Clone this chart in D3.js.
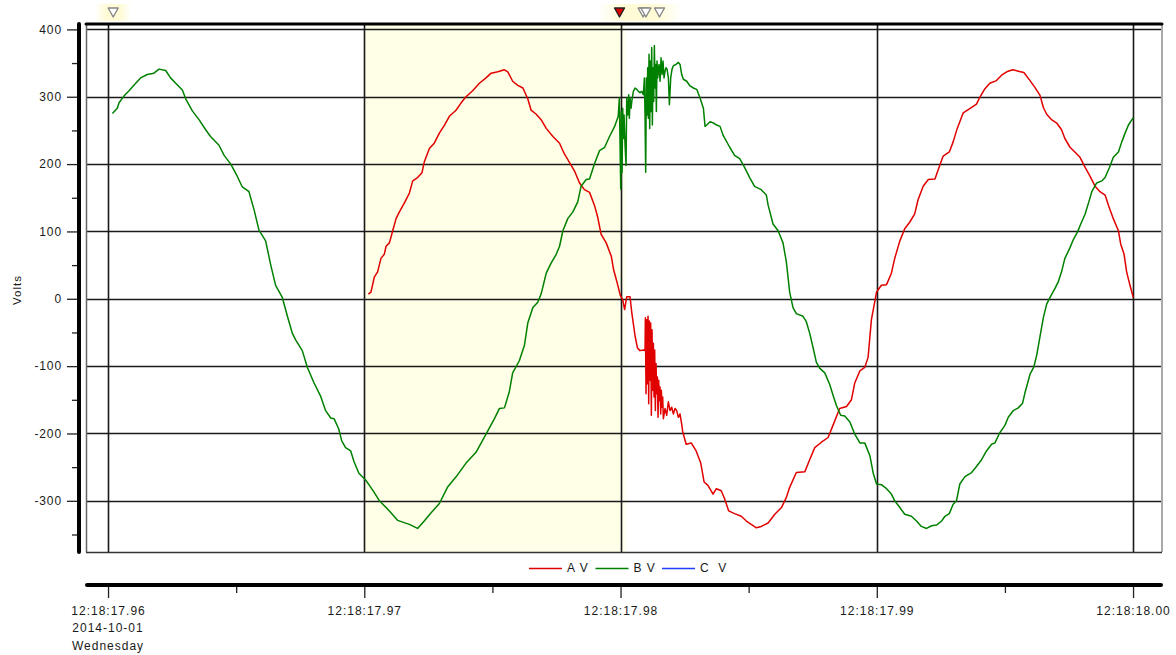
<!DOCTYPE html>
<html><head><meta charset="utf-8">
<script src="https://cdn.jsdelivr.net/npm/d3@7"></script>
<style>
body{margin:0;background:#fff}
svg text{font-family:"Liberation Sans",Arial,sans-serif;fill:#1a1a1a}
</style>
</head><body>
<svg id="c" width="1176" height="655"></svg>
<script>
// ---- data (time in ms after 12:18:17.960) ----
const xTicksMs = [0, 10, 20, 30, 40];
const xTickLabels = ["12:18:17.96", "12:18:17.97", "12:18:17.98", "12:18:17.99", "12:18:18.00"];
const firstTickExtra = ["2014-10-01", "Wednesday"];
const xMinorMs = [5, 15, 25, 35];
const yTicks = [-300, -200, -100, 0, 100, 200, 300, 400];
const yTickLabels = ["-300", "-200", "-100", "0", "100", "200", "300", "400"];
const yMinor = [-350, -250, -150, -50, 50, 150, 250, 350];
const yTitle = "Volts";
const seriesNames = ["A V", "B V", "C  V"];
const seriesColors = ["#e00000", "#008000", "#1f3fff"];
const shadedMs = [10, 20];
const markers = [
  {t: 0.2, kind: "gray"}, {t: 19.96, kind: "red"},
  {t: 20.88, kind: "gray"}, {t: 20.99, kind: "gray"}, {t: 21.52, kind: "gray"}
];

const seriesA = [
[10.16,7],[10.26,10],[10.39,32],[10.52,40],[10.65,60],[10.78,66],[10.85,78],[10.98,83],[11.11,101],[11.24,119],[11.37,129],[11.56,142],[11.76,157],[11.89,175],[12.08,180],[12.25,187],[12.34,203],[12.54,223],[12.73,231],[12.93,246],[13.13,258],[13.32,271],[13.58,280],[13.78,291],[13.97,300],[14.23,309],[14.49,320],[14.75,328],[14.95,335],[15.21,337],[15.47,340],[15.60,337],[15.79,323],[15.99,317],[16.19,313],[16.38,297],[16.51,280],[16.71,274],[16.90,266],[17.10,253],[17.36,241],[17.62,231],[17.81,215],[18.00,203],[18.20,190],[18.40,172],[18.59,162],[18.79,158],[18.98,139],[19.11,121],[19.24,96],[19.44,83],[19.64,63],[19.73,43],[19.86,25],[19.99,5],
[20.08,-1],[20.16,-16],[20.24,3],[20.37,3],[20.44,-21],[20.57,-56],[20.66,-73],[20.76,-77],[20.89,-76],[20.956,-77],
[20.969,-28],[20.995,-141],[21.021,-31],[21.047,-126],[21.073,-26],[21.099,-156],[21.125,-33],[21.151,-121],[21.177,-36],[21.203,-173],[21.229,-46],[21.255,-136],[21.281,-66],[21.307,-146],[21.333,-76],[21.359,-166],[21.385,-96],[21.411,-141],[21.437,-116],[21.463,-176],[21.489,-121],[21.515,-151],[21.541,-131],[21.567,-171],[21.593,-136],[21.619,-161],[21.645,-146],[21.671,-178],[21.736,-163],[21.801,-173],[21.866,-153],[21.931,-166],[21.996,-161],[22.061,-171],[22.126,-163],[22.191,-166],[22.256,-176],[22.321,-171],[22.386,-186],[22.425,-197],
[22.56,-216],[22.76,-214],[22.95,-226],[23.13,-244],[23.26,-272],[23.41,-277],[23.61,-290],[23.74,-282],[23.93,-285],[24.06,-297],[24.22,-315],[24.45,-319],[24.71,-323],[24.91,-330],[25.10,-335],[25.30,-340],[25.49,-338],[25.76,-333],[26.02,-320],[26.28,-310],[26.47,-295],[26.60,-280],[26.86,-258],[27.19,-257],[27.38,-239],[27.58,-221],[27.84,-213],[28.10,-206],[28.29,-188],[28.55,-163],[28.82,-160],[29.01,-150],[29.14,-125],[29.34,-107],[29.53,-102],[29.66,-87],[29.79,-31],[29.99,10],
[30.18,20],[30.38,21],[30.57,38],[30.70,60],[30.90,86],[31.09,104],[31.29,114],[31.48,126],[31.61,147],[31.81,167],[32.01,177],[32.27,178],[32.40,192],[32.59,212],[32.83,218],[32.98,233],[33.14,253],[33.37,276],[33.57,281],[33.89,289],[34.02,299],[34.22,312],[34.41,320],[34.67,324],[34.87,332],[35.07,337],[35.30,340],[35.52,338],[35.74,336],[35.98,324],[36.17,314],[36.37,302],[36.50,284],[36.63,274],[36.82,266],[37.02,261],[37.21,251],[37.34,238],[37.54,225],[37.73,218],[37.93,210],[38.13,195],[38.32,182],[38.52,167],[38.71,159],[38.91,154],[39.04,139],[39.23,119],[39.43,101],[39.52,81],[39.65,66],[39.75,40],[39.88,20],[40.01,2]
];

const seriesB = [
[0.17,275],[0.36,283],[0.43,291],[0.62,301],[0.82,309],[1.01,317],[1.27,328],[1.53,333],[1.79,335],[1.99,341],[2.25,339],[2.44,328],[2.64,320],[2.90,310],[3.03,297],[3.29,279],[3.55,266],[3.81,251],[4.00,241],[4.33,228],[4.53,213],[4.79,200],[5.04,182],[5.24,166],[5.50,159],[5.70,132],[5.89,102],[6.15,86],[6.35,50],[6.54,20],[6.80,2],[7.00,-26],[7.19,-51],[7.32,-61],[7.58,-77],[7.78,-102],[8.04,-125],[8.30,-145],[8.49,-166],[8.69,-177],[8.82,-178],[9.00,-193],[9.12,-211],[9.27,-221],[9.47,-226],[9.60,-242],[9.79,-259],[10.05,-269],[10.20,-277],[10.38,-287],
[10.59,-300],[10.98,-315],[11.30,-329],[11.76,-335],[12.08,-341],[12.34,-330],[12.60,-318],[12.93,-304],[13.26,-279],[13.59,-264],[13.97,-244],[14.36,-228],[14.75,-201],[15.08,-178],[15.27,-163],[15.47,-162],[15.66,-138],[15.79,-110],[16.05,-92],[16.25,-69],[16.38,-36],[16.58,-13],[16.77,-5],[16.90,7],[17.10,38],[17.29,53],[17.49,66],[17.62,78],[17.75,101],[17.94,119],[18.14,129],[18.33,144],[18.46,167],[18.66,177],[18.79,178],[18.98,200],[19.18,220],[19.38,225],[19.57,241],[19.77,256],[19.91,271],
[19.954,298],[20.007,163],[20.033,278],[20.059,188],[20.085,283],[20.111,238],[20.137,273],[20.176,228],[20.215,198],[20.241,298],[20.280,273],[20.319,303],[20.345,268],[20.371,298],[20.410,283],[20.449,296],[20.501,308],[20.566,313],[20.631,311],[20.696,308],[20.761,306],[20.826,308],[20.891,303],
[20.930,328],[20.956,273],[20.982,188],[21.008,328],[21.034,273],[21.060,343],[21.086,268],[21.112,363],[21.138,253],[21.164,353],[21.190,278],[21.216,373],[21.242,258],[21.268,343],[21.294,293],[21.320,376],[21.346,313],[21.372,348],[21.398,278],[21.424,353],[21.450,328],[21.476,338],[21.502,348],[21.541,323],[21.581,358],[21.619,333],[21.658,353],[21.697,328],[21.737,338],[21.776,343],[21.815,341],[21.867,328],[21.906,288],[21.958,328],[22.010,341],[22.062,346],[22.166,348],[22.257,351],[22.322,348],[22.387,333],[22.452,326],[22.582,323],[22.712,316],[22.842,313],[22.972,311],[23.102,298],[23.233,283],[23.298,256],[23.363,258],[23.493,263],[23.623,261],[23.753,258],[23.883,256],
[24.00,243],[24.26,225],[24.45,213],[24.65,208],[24.84,195],[25.04,180],[25.23,167],[25.49,162],[25.69,154],[25.76,139],[25.95,111],[26.15,101],[26.34,83],[26.47,55],[26.60,10],[26.73,-13],[26.86,-22],[27.12,-26],[27.25,-34],[27.38,-51],[27.51,-72],[27.64,-94],[27.77,-103],[27.97,-110],[28.16,-127],[28.29,-143],[28.42,-158],[28.59,-173],[28.75,-174],[28.95,-183],[29.14,-201],[29.34,-214],[29.53,-214],[29.73,-233],[29.86,-259],[29.99,-275],
[30.18,-276],[30.38,-282],[30.57,-290],[30.70,-300],[30.90,-310],[31.09,-320],[31.35,-323],[31.55,-330],[31.74,-338],[31.94,-341],[32.14,-337],[32.33,-336],[32.53,-330],[32.66,-323],[32.83,-319],[32.98,-305],[33.11,-300],[33.24,-275],[33.44,-264],[33.70,-258],[33.89,-249],[34.09,-239],[34.28,-226],[34.48,-216],[34.61,-214],[34.80,-199],[35.00,-188],[35.13,-176],[35.33,-166],[35.52,-162],[35.69,-155],[35.78,-140],[35.98,-112],[36.13,-101],[36.24,-84],[36.37,-56],[36.50,-28],[36.63,-8],[36.76,2],[36.95,15],[37.08,25],[37.21,40],[37.34,60],[37.54,76],[37.67,88],[37.83,99],[37.96,111],[38.13,126],[38.26,142],[38.39,159],[38.58,172],[38.78,175],[38.91,180],[39.08,195],[39.23,210],[39.43,218],[39.56,233],[39.69,246],[39.82,258],[40.01,269]
];
const seriesC = [];

// ---- layout ----
const svg = d3.select("#c");
const P = {left: 86, right: 1162, top: 23, bottom: 552};
const x = d3.scaleLinear().domain([-0.86, 41.13]).range([P.left, P.right]);
const y = d3.scaleLinear().domain([-376, 409.5]).range([P.bottom, P.top]);

const defs = svg.append("defs");
const glow = defs.append("linearGradient").attr("id", "glow");
glow.append("stop").attr("offset", "0").attr("stop-color", "#fffbd6").attr("stop-opacity", 0);
glow.append("stop").attr("offset", "0.3").attr("stop-color", "#fffbd6").attr("stop-opacity", 1);
glow.append("stop").attr("offset", "0.7").attr("stop-color", "#fffbd6").attr("stop-opacity", 1);
glow.append("stop").attr("offset", "1").attr("stop-color", "#fffbd6").attr("stop-opacity", 0);
const fade = defs.append("linearGradient").attr("id", "fade");
fade.append("stop").attr("offset", "0").attr("stop-color", "#fffee6").attr("stop-opacity", 1);
fade.append("stop").attr("offset", "1").attr("stop-color", "#fffee6").attr("stop-opacity", 0);
defs.append("clipPath").attr("id", "plotclip").append("rect")
  .attr("x", P.left).attr("y", P.top).attr("width", P.right - P.left).attr("height", P.bottom - P.top);

// shaded interval
svg.append("rect").attr("x", x(shadedMs[0])).attr("y", P.top).attr("width", x(shadedMs[1]) - x(shadedMs[0]))
  .attr("height", P.bottom - P.top).attr("fill", "#fffee6");
svg.append("rect").attr("x", x(shadedMs[1])).attr("y", P.top).attr("width", 8)
  .attr("height", P.bottom - P.top).attr("fill", "url(#fade)");

// marker glows
svg.append("rect").attr("x", x(markers[0].t) - 18).attr("y", 4).attr("width", 36).attr("height", 17).attr("fill", "url(#glow)");
svg.append("rect").attr("x", x(markers[1].t) - 22).attr("y", 4).attr("width", 84).attr("height", 17).attr("fill", "url(#glow)");

// grid
svg.append("g").selectAll("line").data(yTicks).join("line")
  .attr("x1", P.left).attr("x2", P.right).attr("y1", d => Math.round(y(d)) + 0.5).attr("y2", d => Math.round(y(d)) + 0.5)
  .attr("stroke", "#1a1a1a").attr("stroke-width", 1.6);
svg.append("g").selectAll("line").data(xTicksMs).join("line")
  .attr("y1", P.top).attr("y2", P.bottom).attr("x1", d => Math.round(x(d)) + 0.5).attr("x2", d => Math.round(x(d)) + 0.5)
  .attr("stroke", "#1a1a1a").attr("stroke-width", 1.6);

// frame
svg.append("line").attr("x1", P.left + 0.5).attr("x2", P.left + 0.5).attr("y1", P.top).attr("y2", P.bottom).attr("stroke", "#666").attr("stroke-width", 1.5);
svg.append("line").attr("x1", P.right).attr("x2", P.right).attr("y1", P.top).attr("y2", P.bottom).attr("stroke", "#aaa").attr("stroke-width", 2);
svg.append("line").attr("x1", P.left).attr("x2", P.right).attr("y1", P.bottom + 0.5).attr("y2", P.bottom + 0.5).attr("stroke", "#333").attr("stroke-width", 1.5);
svg.append("line").attr("x1", P.left).attr("x2", P.right).attr("y1", P.top + 1).attr("y2", P.top + 1).attr("stroke", "#000").attr("stroke-width", 3).attr("stroke-linecap", "round");

// series
const line = d3.line().x(d => x(d[0])).y(d => y(d[1]));
const plot = svg.append("g").attr("clip-path", "url(#plotclip)");
[seriesA, seriesB, seriesC].forEach((s, i) => {
  if (!s.length) return;
  plot.append("path").datum(s).attr("d", line).attr("fill", "none")
    .attr("stroke", seriesColors[i]).attr("stroke-width", 1.5).attr("stroke-linejoin", "round");
});

// markers
const tri = "M-5,-4.5 L5,-4.5 L0,4.5 Z";
svg.append("g").selectAll("path").data(markers).join("path")
  .attr("d", tri).attr("transform", d => `translate(${x(d.t)},12.5)`)
  .attr("fill", d => d.kind === "red" ? "#e00000" : "#fff")
  .attr("stroke", d => d.kind === "red" ? "#222" : "#888")
  .attr("stroke-width", 1.4).attr("stroke-linejoin", "round");

// y axis
const yAxisG = svg.append("g").attr("transform", "translate(79,0)");
yAxisG.call(d3.axisLeft(y).tickValues(yTicks).tickSize(12).tickPadding(5).tickFormat((d, i) => yTickLabels[i]));
yAxisG.append("g").call(d3.axisLeft(y).tickValues(yMinor).tickSize(7).tickFormat(""));
yAxisG.selectAll(".domain").remove();
yAxisG.selectAll(".tick line").attr("stroke", "#222").attr("stroke-width", 1.3);
yAxisG.selectAll(".tick text").attr("font-size", 12).attr("letter-spacing", "0.9px").attr("fill", "#1a1a1a")
  .attr("font-family", "Liberation Sans, Arial, sans-serif");
svg.append("line").attr("x1", 79).attr("x2", 79).attr("y1", P.top + 1).attr("y2", P.bottom)
  .attr("stroke", "#000").attr("stroke-width", 4).attr("stroke-linecap", "round");
svg.append("text").attr("transform", "translate(21,290) rotate(-90)").attr("text-anchor", "middle")
  .attr("font-size", 11.5).attr("letter-spacing", "1px").text(yTitle);

// x axis
const xAxisG = svg.append("g").attr("transform", "translate(0,585)");
xAxisG.call(d3.axisBottom(x).tickValues(xTicksMs).tickSize(13).tickPadding(8).tickFormat((d, i) => xTickLabels[i]));
xAxisG.append("g").call(d3.axisBottom(x).tickValues(xMinorMs).tickSize(8).tickFormat(""));
xAxisG.selectAll(".domain").remove();
xAxisG.selectAll(".tick line").attr("stroke", "#222").attr("stroke-width", 1.3);
xAxisG.selectAll(".tick text").attr("font-size", 12).attr("letter-spacing", "1px").attr("fill", "#1a1a1a")
  .attr("font-family", "Liberation Sans, Arial, sans-serif");
firstTickExtra.forEach((t, k) => {
  xAxisG.append("text").attr("x", x(xTicksMs[0])).attr("y", 21 + 17.5 * (k + 1)).attr("dy", "0.71em")
    .attr("text-anchor", "middle").attr("font-size", 12).attr("letter-spacing", "1px").text(t);
});
svg.append("line").attr("x1", P.left + 1).attr("x2", P.right - 1).attr("y1", 585).attr("y2", 585)
  .attr("stroke", "#000").attr("stroke-width", 4).attr("stroke-linecap", "round");

// legend
const leg = svg.append("g").attr("transform", "translate(529,568)");
seriesNames.forEach((n, i) => {
  const g = leg.append("g").attr("transform", `translate(${i * 66.5},0)`);
  g.append("line").attr("x1", 0).attr("x2", 33).attr("y1", 0.5).attr("y2", 0.5).attr("stroke", seriesColors[i]).attr("stroke-width", 1.3);
  g.append("text").attr("x", 38).attr("y", 0).attr("dy", "0.36em").attr("font-size", 12)
    .attr("letter-spacing", "1px").attr("xml:space", "preserve").style("white-space", "pre").text(n);
});
</script>
</body></html>
